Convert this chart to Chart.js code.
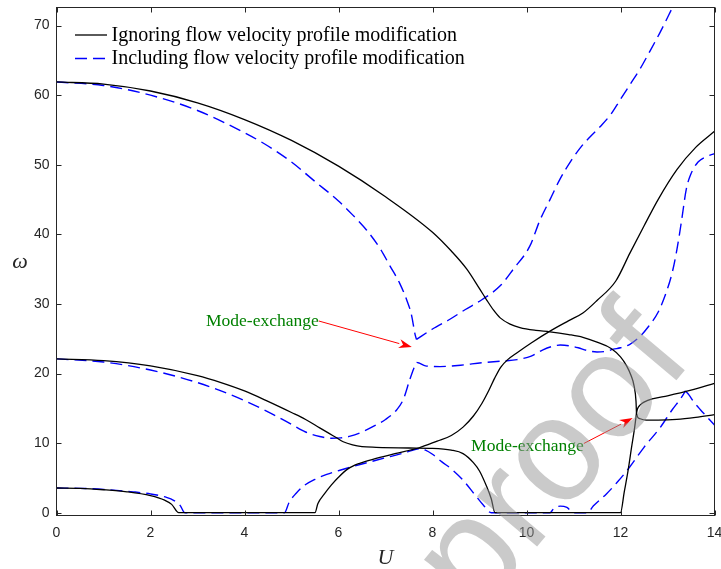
<!DOCTYPE html>
<html>
<head>
<meta charset="utf-8">
<script src="https://cdn.jsdelivr.net/npm/chart.js@4.4.1/dist/chart.umd.min.js"></script>
<style>
  html, body { margin: 0; padding: 0; background: #ffffff; }
  #wrap { width: 721px; height: 569px; position: relative; }
</style>
</head>
<body>
<div id="wrap"><canvas id="chart" width="721" height="569"></canvas></div>
<script>
// Natural frequency ω against flow speed U.
// Solid black: flow velocity profile modification ignored.
const ignoreU1 = [0, 0.5, 1, 1.5, 2, 2.3, 2.45, 2.6, 5.5, 5.56, 5.7, 5.85, 6.0, 6.2, 6.45, 6.8, 7.2, 7.7, 8.1, 8.4, 8.65, 8.87, 9.05, 9.2, 9.32, 9.45, 9.6, 9.8, 10.1, 10.5, 10.9, 11.2, 11.5, 11.9, 12.2, 12.5, 12.8, 13.2, 13.6, 14];
const ignoreW1 = [3.55, 3.5, 3.3, 3.0, 2.45, 1.8, 1.2, 0, 0, 1.3, 2.7, 4.0, 5.1, 6.3, 7.1, 7.8, 8.5, 9.3, 10.3, 11.1, 12.3, 13.9, 15.7, 17.6, 19.3, 20.9, 22.0, 23.0, 24.4, 26.1, 27.6, 28.7, 30.5, 33.3, 37.3, 41.2, 45.0, 49.3, 52.5, 54.8];

const ignoreU2 = [0, 1, 2, 3, 3.5, 4, 4.5, 5, 5.3, 5.6, 5.8, 5.95, 6.1, 6.3, 6.5, 6.8, 7.5, 8.0, 8.4, 8.65, 8.87, 9.0, 9.15, 9.25, 9.33, 12.0, 12.08, 12.16, 12.24, 12.3, 12.34];
const ignoreW2 = [22.1, 21.85, 21.1, 19.7, 18.7, 17.5, 16.0, 14.4, 13.4, 12.2, 11.4, 10.8, 10.2, 9.75, 9.5, 9.4, 9.3, 9.25, 9.0, 8.5, 7.2, 6.0, 3.8, 2.0, 0, 0, 3.0, 6.0, 9.6, 12.2, 14.3];

const ignoreU3 = [0, 1, 2, 3, 4, 5, 6, 7, 8, 8.4, 8.73, 9.0, 9.15, 9.3, 9.44, 9.65, 9.86, 10.2, 10.5, 10.9, 11.2, 11.5, 11.8, 12.0, 12.13, 12.22, 12.29, 12.33, 12.34];
const ignoreW3 = [61.9, 61.6, 60.6, 58.9, 56.5, 53.5, 49.8, 45.4, 40.3, 37.6, 35.0, 32.2, 30.6, 29.1, 28.0, 27.1, 26.6, 26.2, 26.0, 25.6, 25.2, 24.5, 23.6, 22.4, 21.1, 19.8, 18.2, 16.0, 14.3];

const ignoreU4 = [12.34, 12.36, 12.42, 12.5, 12.7, 13.0, 13.5, 14];
const ignoreW4 = [14.3, 14.9, 15.5, 15.9, 16.4, 16.8, 17.6, 18.6];

const ignoreU5 = [12.34, 12.36, 12.42, 12.55, 12.8, 13.2, 13.6, 14];
const ignoreW5 = [14.3, 13.8, 13.5, 13.3, 13.3, 13.4, 13.7, 14.1];

// Dashed blue: flow velocity profile modification included.
const includeU1a = [0, 0.5, 1, 1.63, 2.0, 2.34, 2.5, 2.63, 2.73, 4.85, 4.95, 5.1, 5.25, 5.5, 5.75, 6.03, 6.5, 6.95, 7.4, 7.73, 7.85, 8.0, 8.2, 8.4, 8.66, 8.9, 9.08, 9.25, 10.5, 10.58, 10.72, 10.86, 11.0, 11.3, 11.42, 11.7, 11.92, 12.2, 12.5, 12.84, 13.1, 13.3, 13.38];
const includeW1a = [3.55, 3.5, 3.35, 3.0, 2.7, 2.2, 1.75, 1.05, 0, 0, 1.5, 2.8, 3.8, 4.8, 5.5, 6.1, 7.0, 7.8, 8.6, 9.2, 9.0, 8.4, 7.3, 6.3, 4.6, 2.6, 1.1, 0, 0, 0.6, 0.95, 0.75, 0, 0, 0.95, 2.7, 4.3, 6.6, 9.4, 12.2, 14.8, 16.6, 17.5];
const includeU1b = [13.38, 13.46, 13.55, 13.7, 13.85, 14];
const includeW1b = [17.5, 16.9, 16.0, 14.8, 13.7, 12.6];

const includeU2 = [0, 1, 2, 3, 3.5, 4, 4.5, 5, 5.3, 5.6, 5.85, 6.05, 6.25, 6.5, 6.74, 7.0, 7.24, 7.38, 7.52, 7.6, 7.66, 7.72, 7.85, 8.16, 8.6, 9.05, 9.5, 9.8, 10.1, 10.35, 10.55, 10.72, 10.9, 11.1, 11.3, 11.5, 11.7, 11.85, 12.0, 12.2, 12.41, 12.6, 12.8, 12.98, 13.1, 13.2, 13.3, 13.4, 13.5, 13.65, 13.8, 14];
const includeW2 = [22.1, 21.65, 20.5, 18.7, 17.5, 16.1, 14.5, 12.7, 11.6, 10.95, 10.7, 10.75, 11.0, 11.6, 12.4, 13.4, 14.8, 16.3, 19.2, 20.7, 21.6, 21.5, 21.1, 21.0, 21.2, 21.55, 21.8, 22.0, 22.5, 23.4, 23.9, 24.1, 24.0, 23.7, 23.3, 23.1, 23.2, 23.5, 23.7, 24.2, 25.3, 26.8, 28.8, 31.8, 34.5, 37.8, 42.0, 46.5, 48.7, 50.4, 51.1, 51.6];

const includeU3a = [0, 1, 2, 3, 4, 4.5, 5, 5.5, 6, 6.3, 6.6, 6.9, 7.1, 7.3, 7.45, 7.55, 7.63, 7.66];
const includeW3a = [61.9, 61.4, 60.0, 57.8, 54.6, 52.7, 50.4, 47.6, 44.8, 42.8, 40.6, 37.8, 35.4, 33.0, 30.6, 28.5, 25.6, 24.9];
const includeU3b = [7.66, 8.0, 8.37, 8.7, 9.05, 9.44, 9.72, 10.07, 10.29, 10.5, 10.71, 10.95, 11.14, 11.35, 11.57, 11.8, 11.99, 12.2, 12.41, 12.6, 12.84, 13.12];
const includeW3b = [24.9, 26.4, 27.8, 29.2, 30.6, 32.6, 35.0, 38.3, 42.1, 45.0, 47.9, 50.6, 52.4, 54.0, 55.5, 57.3, 59.3, 61.5, 63.7, 66.0, 69.0, 72.8];

// Axis ticks and legend text.
const xTickValues = [0, 2, 4, 6, 8, 10, 12, 14];
const yTickValues = [0, 10, 20, 30, 40, 50, 60, 70];
const seriesNames = ['Ignoring flow velocity profile modification', 'Including flow velocity profile modification'];
const noteLabel = 'Mode-exchange';

const INK = '#262626';
const SOLID_STYLE = { color: '#000000', width: 1.3, dash: [] };
const DASH_STYLE = { color: '#0000ff', width: 1.4, dash: [12, 6] };

function points(us, ws) {
  return us.map((u, i) => ({ x: u, y: ws[i] }));
}

function branch(us, ws, style, name) {
  return {
    label: name,
    data: points(us, ws),
    showLine: true,
    borderColor: style.color,
    borderWidth: style.width,
    borderDash: style.dash,
    pointRadius: 0,
    pointHoverRadius: 0,
    cubicInterpolationMode: 'monotone',
    fill: false
  };
}

const datasets = [
  branch(ignoreU3, ignoreW3, SOLID_STYLE, seriesNames[0]),
  branch(ignoreU2, ignoreW2, SOLID_STYLE, seriesNames[0]),
  branch(ignoreU1, ignoreW1, SOLID_STYLE, seriesNames[0]),
  branch(ignoreU4, ignoreW4, SOLID_STYLE, seriesNames[0]),
  branch(ignoreU5, ignoreW5, SOLID_STYLE, seriesNames[0]),
  branch(includeU3a, includeW3a, DASH_STYLE, seriesNames[1]),
  branch(includeU3b, includeW3b, DASH_STYLE, seriesNames[1]),
  branch(includeU2, includeW2, DASH_STYLE, seriesNames[1]),
  branch(includeU1a, includeW1a, DASH_STYLE, seriesNames[1]),
  branch(includeU1b, includeW1b, DASH_STYLE, seriesNames[1])
];

// Frame box with inward tick marks on all four sides.
const framePlugin = {
  id: 'frame',
  afterDatasetsDraw(chart) {
    const { ctx, chartArea: a, scales } = chart;
    const tl = 5;
    ctx.save();
    ctx.strokeStyle = INK;
    ctx.lineWidth = 1;
    ctx.setLineDash([]);
    ctx.strokeRect(a.left, a.top, a.right - a.left, a.bottom - a.top);
    ctx.beginPath();
    xTickValues.forEach(v => {
      const px = Math.round(scales.x.getPixelForValue(v)) + 0.5;
      ctx.moveTo(px, a.bottom); ctx.lineTo(px, a.bottom - tl);
      ctx.moveTo(px, a.top); ctx.lineTo(px, a.top + tl);
    });
    yTickValues.forEach(v => {
      const py = Math.round(scales.y.getPixelForValue(v)) + 0.5;
      ctx.moveTo(a.left, py); ctx.lineTo(a.left + tl, py);
      ctx.moveTo(a.right, py); ctx.lineTo(a.right - tl, py);
    });
    ctx.stroke();
    ctx.restore();
  }
};

// Legend drawn inside the plot, top left.
const legendPlugin = {
  id: 'innerLegend',
  afterDatasetsDraw(chart) {
    const { ctx } = chart;
    const rows = [
      { style: SOLID_STYLE, text: seriesNames[0], y: 35, base: 40.5 },
      { style: DASH_STYLE, text: seriesNames[1], y: 58.5, base: 64 }
    ];
    ctx.save();
    rows.forEach(r => {
      ctx.beginPath();
      ctx.strokeStyle = r.style.color;
      ctx.lineWidth = r.style.width;
      ctx.setLineDash(r.style.dash);
      ctx.moveTo(75, r.y);
      ctx.lineTo(107, r.y);
      ctx.stroke();
      ctx.setLineDash([]);
      ctx.fillStyle = '#000000';
      ctx.font = '20px "Liberation Serif"';
      ctx.textAlign = 'left';
      ctx.textBaseline = 'alphabetic';
      ctx.fillText(r.text, 111.5, r.base);
    });
    ctx.restore();
  }
};

// Mode-exchange notes: green text with red arrows, placed in data units.
const notes = [
  { tail: [5.58, 27.55], head: [7.56, 23.8], dy: 0 },
  { tail: [11.22, 9.95], head: [12.26, 13.6], dy: 3 }
];
const notePlugin = {
  id: 'notes',
  afterDatasetsDraw(chart) {
    const { ctx, scales: { x, y } } = chart;
    ctx.save();
    notes.forEach(n => {
      const tx = x.getPixelForValue(n.tail[0]);
      const ty = y.getPixelForValue(n.tail[1]);
      const hx = x.getPixelForValue(n.head[0]);
      const hy = y.getPixelForValue(n.head[1]);
      const ang = Math.atan2(hy - ty, hx - tx);
      const headLen = 13, headHalf = 4.5;
      const bx = hx - headLen * Math.cos(ang);
      const by = hy - headLen * Math.sin(ang);
      ctx.strokeStyle = '#ff0000';
      ctx.fillStyle = '#ff0000';
      ctx.lineWidth = 1;
      ctx.setLineDash([]);
      ctx.beginPath();
      ctx.moveTo(tx, ty);
      ctx.lineTo(bx, by);
      ctx.stroke();
      ctx.beginPath();
      ctx.moveTo(hx, hy);
      ctx.lineTo(bx + headHalf * Math.sin(ang), by - headHalf * Math.cos(ang));
      ctx.lineTo(hx - 0.7 * headLen * Math.cos(ang), hy - 0.7 * headLen * Math.sin(ang));
      ctx.lineTo(bx - headHalf * Math.sin(ang), by + headHalf * Math.cos(ang));
      ctx.closePath();
      ctx.fill();
      ctx.fillStyle = '#008000';
      ctx.font = '17.5px "Liberation Serif"';
      ctx.textAlign = 'right';
      ctx.textBaseline = 'middle';
      ctx.fillText(noteLabel, tx, ty + n.dy);
    });
    ctx.restore();
  }
};

// Axis titles.
const titlePlugin = {
  id: 'axisTitles',
  afterDraw(chart) {
    const { ctx, chartArea: a } = chart;
    ctx.save();
    ctx.fillStyle = INK;
    ctx.font = 'italic 22px "Liberation Serif"';
    ctx.textAlign = 'center';
    ctx.textBaseline = 'alphabetic';
    ctx.fillText('U', (a.left + a.right) / 2, 563.5);
    ctx.fillText('ω', 20, (a.top + a.bottom) / 2 + 6);
    ctx.restore();
  }
};

// Diagonal watermark over the plot.
const watermarkPlugin = {
  id: 'watermark',
  afterDraw(chart) {
    const { ctx } = chart;
    ctx.save();
    ctx.translate(446, 655);
    ctx.rotate(-50 * Math.PI / 180);
    ctx.font = '148px "Liberation Sans"';
    ctx.fillStyle = 'rgba(150,150,150,0.5)';
    ctx.textAlign = 'left';
    ctx.textBaseline = 'alphabetic';
    ctx.fillText('-proof', 0, 0);
    ctx.restore();
  }
};

function noScalePadding(s) {
  s.paddingLeft = 0;
  s.paddingRight = 0;
  s.paddingTop = 0;
  s.paddingBottom = 0;
}

new Chart(document.getElementById('chart'), {
  type: 'scatter',
  data: { datasets },
  options: {
    responsive: false,
    animation: false,
    devicePixelRatio: 1,
    layout: { padding: { left: 0, right: 6.5, top: 7.5, bottom: 0 } },
    plugins: { legend: { display: false }, tooltip: { enabled: false } },
    scales: {
      x: {
        type: 'linear',
        min: 0,
        max: 14,
        grid: { display: false, drawTicks: false },
        border: { display: false },
        afterBuildTicks: s => { s.ticks = xTickValues.map(v => ({ value: v })); },
        afterFit: s => { s.height = 53.5; noScalePadding(s); },
        ticks: {
          padding: 9,
          color: INK,
          font: { family: 'Liberation Sans', size: 14 },
          maxRotation: 0
        }
      },
      y: {
        type: 'linear',
        min: -0.4,
        max: 72.6,
        grid: { display: false, drawTicks: false },
        border: { display: false },
        afterBuildTicks: s => { s.ticks = yTickValues.map(v => ({ value: v })); },
        afterFit: s => { s.width = 56.5; noScalePadding(s); },
        ticks: {
          padding: 7,
          color: INK,
          font: { family: 'Liberation Sans', size: 14 }
        }
      }
    }
  },
  plugins: [framePlugin, notePlugin, legendPlugin, titlePlugin, watermarkPlugin]
});
</script>
</body>
</html>
